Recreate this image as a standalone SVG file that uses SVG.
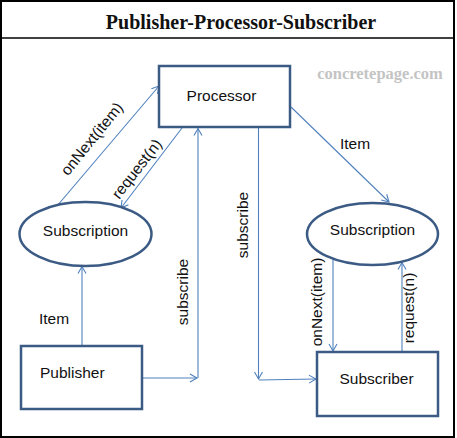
<svg xmlns="http://www.w3.org/2000/svg" width="457" height="438" viewBox="0 0 457 438">
  <style>
    .node { fill: #ffffff; stroke: #3b5a84; stroke-width: 2.5; }
    .conn { fill: none; stroke: #4f81bd; stroke-width: 1.1; }
    .lbl { font-family: "Liberation Sans", Arial, sans-serif; font-size: 15.5px; fill: #111111; }
    .title { font-family: "Liberation Serif", "Times New Roman", serif; font-size: 20px; font-weight: bold; fill: #111111; }
    .mark { font-family: "Liberation Serif", "Times New Roman", serif; font-size: 16.5px; font-weight: bold; fill: #c4c4c4; }
  </style>
  <defs>
    <marker id="arr" markerUnits="userSpaceOnUse" markerWidth="12" markerHeight="12" refX="8" refY="5" orient="auto">
      <path d="M1,1 L8,5 L1,9" fill="none" stroke="#4f81bd" stroke-width="1.1"/>
    </marker>
  </defs>
  <rect x="0" y="0" width="457" height="438" fill="#ffffff"/>
  <g id="frame">
    <rect x="1" y="1" width="453" height="436" fill="none" stroke="#000000" stroke-width="2"/>
    <line x1="1" y1="38" x2="454" y2="38" stroke="#000000" stroke-width="1.5"/>
    <text class="title" x="241" y="29" text-anchor="middle">Publisher-Processor-Subscriber</text>
    <text class="mark" x="380" y="79" text-anchor="middle">concretepage.com</text>
  </g>
  <g id="connectors">
    <line class="conn" x1="82" y1="346" x2="82" y2="266.5" marker-end="url(#arr)"/>
    <line class="conn" x1="57" y1="206" x2="159" y2="86" marker-end="url(#arr)"/>
    <line class="conn" x1="182" y1="128" x2="121" y2="208" marker-end="url(#arr)"/>
    <line class="conn" x1="143" y1="378" x2="197" y2="378" marker-end="url(#arr)"/>
    <line class="conn" x1="198" y1="378" x2="198" y2="128.5" marker-end="url(#arr)"/>
    <line class="conn" x1="258.5" y1="128" x2="258.5" y2="379" marker-end="url(#arr)"/>
    <line class="conn" x1="259" y1="380" x2="316" y2="379" marker-end="url(#arr)"/>
    <line class="conn" x1="291" y1="107" x2="389" y2="202" marker-end="url(#arr)"/>
    <line class="conn" x1="333" y1="259" x2="333" y2="351" marker-end="url(#arr)"/>
    <line class="conn" x1="402" y1="352" x2="402" y2="262.5" marker-end="url(#arr)"/>
    <text class="lbl" transform="translate(92,139) rotate(-51)" x="0" y="5" text-anchor="middle">onNext(item)</text>
    <text class="lbl" transform="translate(137,169) rotate(-52)" x="0" y="5" text-anchor="middle">request(n)</text>
    <text class="lbl" x="39" y="324">Item</text>
    <text class="lbl" x="340" y="149">Item</text>
    <text class="lbl" transform="translate(182,292) rotate(-90)" x="0" y="5.5" text-anchor="middle">subscribe</text>
    <text class="lbl" transform="translate(242,225) rotate(-90)" x="0" y="5.5" text-anchor="middle">subscribe</text>
    <text class="lbl" transform="translate(317,302) rotate(-90)" x="0" y="5" text-anchor="middle">onNext(item)</text>
    <text class="lbl" transform="translate(409,308) rotate(-90)" x="0" y="5" text-anchor="middle">request(n)</text>
  </g>
  <g id="processor">
    <rect class="node" x="159" y="66" width="131" height="61"/>
    <text class="lbl" x="221.5" y="101" text-anchor="middle">Processor</text>
  </g>
  <g id="subscription-left">
    <ellipse class="node" cx="85.5" cy="234" rx="66" ry="32"/>
    <text class="lbl" x="85.5" y="236" text-anchor="middle">Subscription</text>
  </g>
  <g id="subscription-right">
    <ellipse class="node" cx="372.5" cy="234" rx="65.5" ry="31"/>
    <text class="lbl" x="372.5" y="235" text-anchor="middle">Subscription</text>
  </g>
  <g id="publisher">
    <rect class="node" x="21" y="346" width="121" height="63"/>
    <text class="lbl" x="40" y="378">Publisher</text>
  </g>
  <g id="subscriber">
    <rect class="node" x="317" y="352" width="121" height="64"/>
    <text class="lbl" x="376.5" y="384" text-anchor="middle">Subscriber</text>
  </g>
</svg>
